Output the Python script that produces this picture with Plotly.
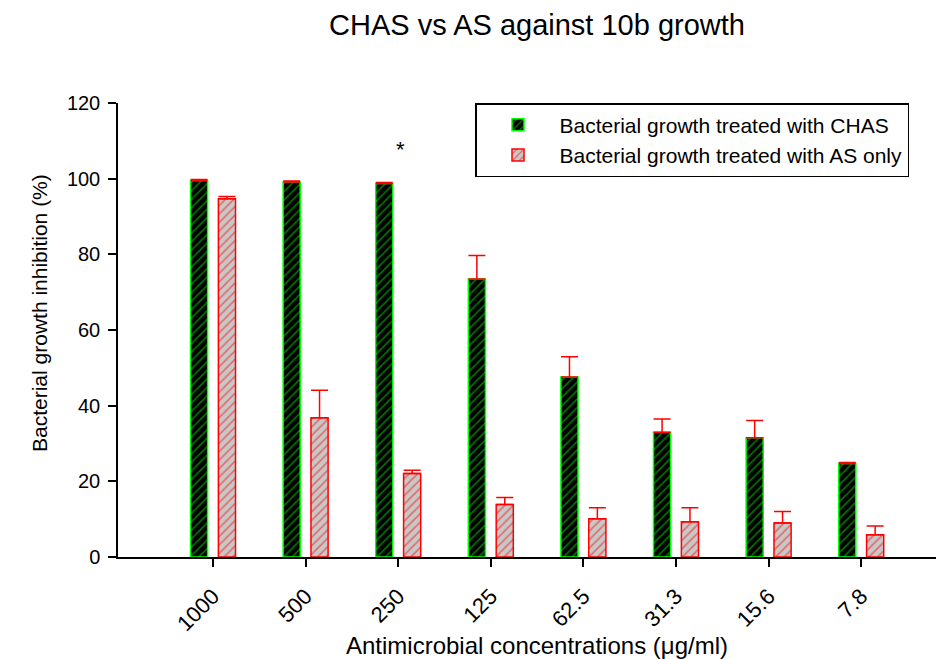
import plotly.graph_objects as go

categories = ["1000", "500", "250", "125", "62.5", "31.3", "15.6", "7.8"]
chas_values = [99.5, 99.1, 98.7, 73.5, 47.6, 33.0, 31.5, 24.7]
chas_errors = [0.3, 0.3, 0.3, 6.2, 5.3, 3.5, 4.6, 0.3]
as_values = [94.7, 36.8, 22.1, 13.9, 10.1, 9.3, 9.0, 5.9]
as_errors = [0.6, 7.3, 0.8, 1.8, 2.9, 3.7, 3.0, 2.3]

xpos = list(range(len(categories)))
FONT = "Liberation Sans, Arial, sans-serif"

# page has an 8px body margin; figure is sized so that the plot area lands where the reference has it
W, H = 936, 651
L, T, PW, PH = 110, 95, 826, 454

fig = go.Figure()
fig.add_trace(go.Bar(
    x=xpos, y=chas_values, name="Bacterial growth treated with CHAS",
    width=0.185, offset=-0.243,
    marker=dict(color="black", line=dict(color="#00ff00", width=1.5),
                pattern=dict(shape="/", fgcolor="#00ff00", bgcolor="black", size=6, solidity=0.25)),
    error_y=dict(type="data", array=chas_errors, arrayminus=[0]*8, symmetric=False,
                 color="red", thickness=1.5, width=8.5),
))
fig.add_trace(go.Bar(
    x=xpos, y=as_values, name="Bacterial growth treated with AS only",
    width=0.185, offset=0.058,
    marker=dict(color="#c8c8c8", line=dict(color="red", width=1.5),
                pattern=dict(shape="/", fgcolor="red", bgcolor="#c8c8c8", size=6, solidity=0.25)),
    error_y=dict(type="data", array=as_errors, arrayminus=[0]*8, symmetric=False,
                 color="red", thickness=1.5, width=8.5),
))

fig.add_annotation(x=2.03, y=107.8, text="*", showarrow=False, xref="x", yref="y",
                   yanchor="middle", font=dict(size=22, color="black", family=FONT))

fig.add_annotation(x=(537 - 118) / PW, y=(557 - 645) / PH, xref="paper", yref="paper",
                   text="Antimicrobial concentrations (μg/ml)", showarrow=False,
                   xanchor="center", yanchor="middle",
                   font=dict(size=24, family=FONT, color="black"))
fig.add_annotation(x=(39 - 118) / PW, y=(557 - 313) / PH, xref="paper", yref="paper",
                   text="Bacterial growth inhibition (%)", showarrow=False, textangle=-90,
                   xanchor="center", yanchor="middle",
                   font=dict(size=21, family=FONT, color="black"))

fig.update_layout(
    width=W, height=H,
    margin=dict(l=L, r=W - L - PW, t=T, b=H - T - PH, autoexpand=False),
    plot_bgcolor="white", paper_bgcolor="white",
    barmode="overlay",
    font=dict(family=FONT, color="black"),
    title=dict(text="CHAS vs AS against 10b growth", x=(537 - 8) / W, xanchor="center",
               xref="container", y=1 - (25 - 8) / H, yanchor="middle", yref="container",
               font=dict(size=29, family=FONT, color="black")),
    showlegend=True,
    legend=dict(x=(475 - 118) / PW, y=1.0, xanchor="left", yanchor="top",
                bordercolor="black", borderwidth=1.5, bgcolor="white",
                font=dict(size=21, family=FONT, color="black"),
                tracegroupgap=0, itemwidth=73),
    xaxis=dict(range=[-1.026, 7.894], tickmode="array", tickvals=xpos, ticktext=categories,
               tickangle=-45, showline=True, linecolor="black", linewidth=1.5,
               ticks="outside", ticklen=8, tickwidth=1.5, tickcolor="black",
               showgrid=False, zeroline=False, automargin=False, ticklabelstandoff=8,
               tickfont=dict(size=22, family=FONT, color="black")),
    yaxis=dict(range=[0, 120], tickvals=[0, 20, 40, 60, 80, 100, 120],
               showline=True, linecolor="black", linewidth=1.5,
               ticks="outside", ticklen=8, tickwidth=1.5, tickcolor="black",
               showgrid=False, zeroline=False, automargin=False, ticklabelstandoff=4,
               tickfont=dict(size=20, family=FONT, color="black")),
)

fig.write_html("out.html")
